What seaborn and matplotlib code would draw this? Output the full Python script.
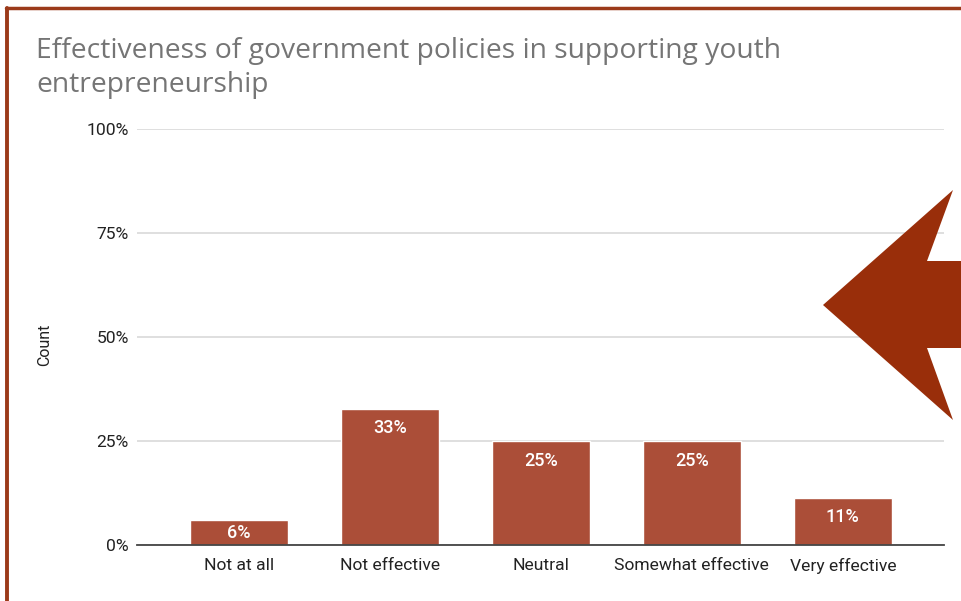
import pandas as pd
import seaborn as sns
from matplotlib import pyplot as plt
from matplotlib.patches import Polygon
from matplotlib.lines import Line2D

categories = ['Not at all', 'Not effective', 'Neutral', 'Somewhat effective', 'Very effective']
shares = [6.0, 32.8, 25.0, 25.0, 11.4]
labels = ['6%', '33%', '25%', '25%', '11%']
yticks = [0, 25, 50, 75, 100]
yticklabels = ['0%', '25%', '50%', '75%', '100%']

bar_color = '#ab4e38'
accent = '#992e0a'

df = pd.DataFrame({'answer': categories, 'share': shares})

sns.set_style('white')
plt.rcParams['font.family'] = ['Roboto', 'DejaVu Sans']

W, H = 962, 601
fig = plt.figure(figsize=(W / 100, H / 100), dpi=100)
ax = fig.add_axes([137 / W, (H - 545) / H, (944 - 137) / W, (545 - 129) / H])

sns.barplot(data=df, x='answer', y='share', color=bar_color, width=0.65,
            saturation=1, ax=ax, zorder=3)

for p, lab in zip(ax.patches, labels):
    h = p.get_height()
    cx = p.get_x() + p.get_width() / 2
    if h < 8:
        # short bar: label centred inside
        ax.text(cx, h / 2, lab, ha='center', va='center', color='white',
                fontsize=13, fontweight='medium', zorder=4)
    else:
        ax.text(cx, h - 2.6, lab, ha='center', va='top', color='white',
                fontsize=13, fontweight='medium', zorder=4)

ax.set_xlim(-0.675, 4.67)
ax.set_ylim(0, 100)
ax.set_yticks(yticks)
ax.set_yticklabels(yticklabels)
ax.yaxis.grid(True, color='#d9d9d9', linewidth=1.2, zorder=0)
ax.set_axisbelow(True)
for s in ['top', 'right', 'left']:
    ax.spines[s].set_visible(False)
ax.spines['bottom'].set_color('#444444')
ax.spines['bottom'].set_linewidth(1.3)
ax.spines['bottom'].set_zorder(5)
ax.tick_params(axis='both', length=0, labelsize=12.6, colors='#222222')
ax.tick_params(axis='y', pad=6)
ax.tick_params(axis='x', pad=9)
ax.set_xlabel('')
ax.set_ylabel('')
fig.text(45 / W, 1 - 345 / H, 'Count', rotation=90, ha='center', va='center',
         fontsize=11.5, color='#222222')

fig.text(36 / W, 1 - 68 / H, 'Effectiveness of government policies in supporting youth\nentrepreneurship',
         ha='left', va='center', fontsize=20.3, color='#757575',
         family=['Open Sans', 'DejaVu Sans'], linespacing=1.25)

# frame on the slide and pointing arrow
fig.add_artist(Line2D([6 / W, 1], [1 - 7.5 / H, 1 - 7.5 / H], color='#9b3a1a', lw=2.5,
                      transform=fig.transFigure))
fig.add_artist(Line2D([6.5 / W, 6.5 / W], [0, 1 - 7.5 / H], color='#9b3a1a', lw=2.8,
                      transform=fig.transFigure))
arrow_px = [(823, 305), (953, 190), (927, 261), (962, 261), (962, 348),
            (927, 348), (953, 420)]
fig.add_artist(Polygon([(x / W, 1 - y / H) for x, y in arrow_px], closed=True,
                       facecolor=accent, edgecolor='none', transform=fig.transFigure, zorder=10))

fig.savefig('out.png', dpi=100)
